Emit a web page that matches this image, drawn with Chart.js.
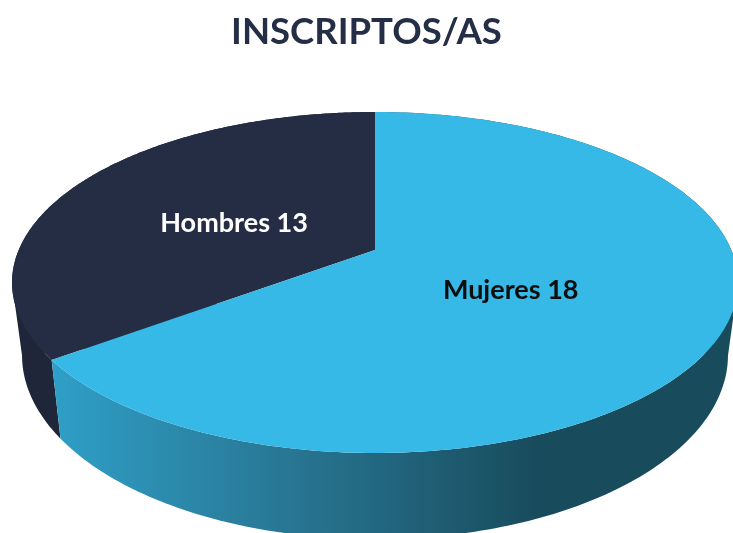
<!DOCTYPE html>
<html>
<head>
<meta charset="utf-8">
<title>INSCRIPTOS/AS</title>
<script src="https://cdn.jsdelivr.net/npm/chart.js@4"></script>
<style>
    html, body { margin: 0; padding: 0; background: #ffffff; overflow: hidden; }
    canvas { display: block; }
</style>
</head>
<body>
<canvas id="pieChart" width="733" height="533"></canvas>
<script>
// Chart data
const categories = ['Mujeres', 'Hombres'];
const values = [18, 13];

const topColors = ['#36b9e6', '#242d44'];
const sideColors = [null, '#1f2639'];
const labelColors = ['#0d0d0d', '#ffffff'];

// The reference's 3D view opens the first slice wider than its share of 31:
// the boundary sits at about 233.6 degrees, so angles are stretched to match
const drawnSplit = 233.6 * Math.PI / 180;
const perspective = 0.1906;
const topFace = { x: 375, y: 250, rx: 356.3, ry: 164.3 };
const bottomFace = { x: 375, y: 320, rx: 346.5, ry: 177.4 };
const labelRadius = [0.432, 0.44];
const labelTurn = [5.8 * Math.PI / 180, -4.8 * Math.PI / 180];
// Which outer edge of the disc each slice's wall reaches: right, left
const wallSide = [1, -1];

// Projects a point of the unit disc on to the tilted face
function project(face, angle, radius) {
    const u = Math.cos(angle) * radius;
    const v = Math.sin(angle) * radius;
    const w = 1 - perspective * v;
    return { x: face.x + face.rx * u / w, y: face.y + face.ry * v / w };
}

function viewAngle(angle, split) {
    const t = angle + Math.PI / 2;
    const full = Math.PI * 2;
    if (t <= split) {
        return -Math.PI / 2 + t * drawnSplit / split;
    }
    return -Math.PI / 2 + drawnSplit + (t - split) * (full - drawnSplit) / (full - split);
}

function rimPoints(face, start, end) {
    const points = [];
    const steps = 240;
    for (let i = 0; i <= steps; i++) {
        points.push(project(face, start + (end - start) * i / steps, 1));
    }
    return points;
}

function tracePoints(ctx, points) {
    points.forEach(function (p) {
        ctx.lineTo(p.x, p.y);
    });
}

function outermost(points, side) {
    return points.reduce(function (best, p) {
        return (p.x - best.x) * side > 0 ? p : best;
    });
}

function sideFill(ctx, index) {
    if (sideColors[index]) {
        return sideColors[index];
    }
    const gradient = ctx.createLinearGradient(52, 0, 540, 0);
    gradient.addColorStop(0, '#2f9fc7');
    gradient.addColorStop(0.38, '#2a7f9e');
    gradient.addColorStop(0.68, '#22667f');
    gradient.addColorStop(1, '#184b5c');
    return gradient;
}

// Draws the pie's arc elements as a solid disc seen in perspective
const tiltedPie = {
    id: 'tiltedPie',
    beforeDatasetDraw: function (chart, args) {
        const ctx = chart.ctx;
        const arcs = chart.getDatasetMeta(args.index).data;
        const split = arcs[0].endAngle + Math.PI / 2;
        const order = [1, 0];

        order.forEach(function (i) {
            const start = viewAngle(arcs[i].startAngle, split);
            const end = viewAngle(arcs[i].endAngle, split);
            const topRim = rimPoints(topFace, start, end);
            const bottomRim = rimPoints(bottomFace, start, end);
            const topEdge = outermost(topRim, wallSide[i]);
            const bottomEdge = outermost(bottomRim, wallSide[i]);
            ctx.fillStyle = sideFill(ctx, i);

            ctx.beginPath();
            tracePoints(ctx, topRim);
            tracePoints(ctx, bottomRim.reverse());
            ctx.closePath();
            ctx.fill();

            // straight silhouette between the two faces
            ctx.beginPath();
            ctx.moveTo(topEdge.x, topEdge.y);
            ctx.lineTo(bottomEdge.x, bottomEdge.y);
            ctx.lineTo(bottomFace.x, bottomFace.y);
            ctx.closePath();
            ctx.fill();
        });

        order.forEach(function (i) {
            const start = viewAngle(arcs[i].startAngle, split);
            const end = viewAngle(arcs[i].endAngle, split);
            ctx.beginPath();
            ctx.moveTo(topFace.x, topFace.y);
            tracePoints(ctx, rimPoints(topFace, start, end));
            ctx.closePath();
            ctx.fillStyle = topColors[i];
            ctx.fill();
        });

        ctx.font = 'bold 27px Lato';
        ctx.textAlign = 'center';
        ctx.textBaseline = 'middle';
        arcs.forEach(function (arc, i) {
            const mid = (viewAngle(arc.startAngle, split) + viewAngle(arc.endAngle, split)) / 2;
            const p = project(topFace, mid + labelTurn[i], labelRadius[i]);
            ctx.fillStyle = labelColors[i];
            ctx.fillText(categories[i] + ' ' + values[i], p.x, p.y);
        });
        return false;
    }
};

function createChart() {
    const ctx = document.getElementById('pieChart').getContext('2d');

    new Chart(ctx, {
        type: 'pie',
        data: {
            labels: categories,
            datasets: [{
                data: values,
                backgroundColor: topColors,
                borderWidth: 0
            }]
        },
        options: {
            responsive: false,
            animation: false,
            plugins: {
                legend: { display: false },
                tooltip: { enabled: false },
                title: {
                    display: true,
                    text: 'INSCRIPTOS/AS',
                    color: '#242e46',
                    font: { family: 'Lato', size: 36.5, weight: 'bold' },
                    padding: { top: 10, bottom: 10 }
                }
            }
        },
        plugins: [tiltedPie]
    });
}

window.onload = createChart;
</script>
</body>
</html>
